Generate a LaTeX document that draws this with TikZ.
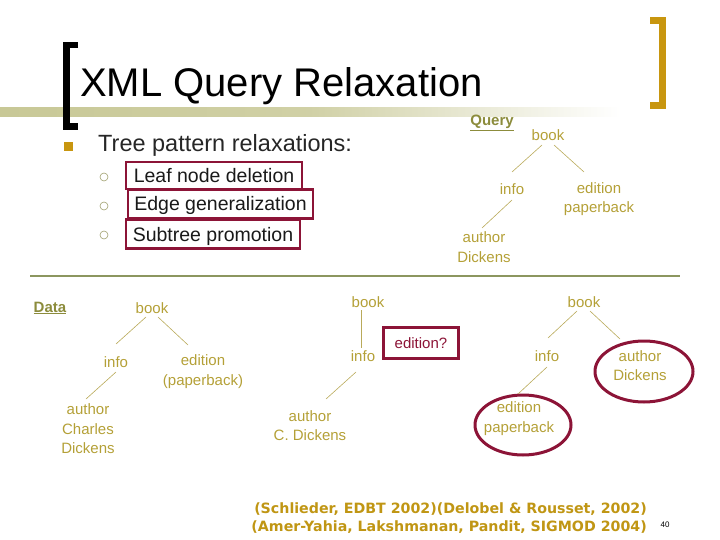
\documentclass[tikz,border=0pt]{standalone}
\usepackage{fontspec}
\setmainfont{Liberation Sans}
\newfontfamily\citefont{DejaVu Sans}
\usetikzlibrary{shapes.geometric,calc}
\definecolor{olivetext}{RGB}{180,160,55}
\definecolor{oliveline}{RGB}{185,170,90}
\definecolor{maroonc}{RGB}{140,20,55}
\definecolor{goldc}{RGB}{200,150,15}
\definecolor{headolive}{RGB}{140,140,60}
\definecolor{sepline}{RGB}{140,150,95}
\definecolor{citecol}{RGB}{192,150,20}
\definecolor{barolive}{RGB}{200,200,150}
\definecolor{circol}{RGB}{160,160,110}
\begin{document}
\begin{tikzpicture}[x=1pt,y=-1pt,
  lbl/.style={text=olivetext, font=\fontsize{15}{19.5}\selectfont, align=center, inner sep=0pt},
  edgeline/.style={draw=oliveline, line width=0.6pt},
  relbox/.style={draw=maroonc, line width=2.8pt, inner sep=0pt, text=black!90,
    font=\fontsize{19.5}{23}\selectfont, text height=14pt, text depth=0pt},
  ring/.style={draw=maroonc, line width=3pt, ellipse, inner sep=0pt},
  heading/.style={text=headolive, font=\bfseries\fontsize{15}{18}\selectfont, inner sep=0pt},
  subbullet/.style={circle, draw=circol, line width=0.6pt, minimum size=8pt, inner sep=0pt},
]
\useasboundingbox (0,0) rectangle (720,540);

% title bar
\shade[left color=barolive, right color=white, middle color=barolive!85] (0,108) rectangle (620,116.5);
\draw[line width=6.5pt, line join=miter] (78,45.25) -- (66.25,45.25) -- (66.25,126.75) -- (78,126.75);
\draw[goldc, line width=7pt, line join=miter] (650,20.5) -- (662.5,20.5) -- (662.5,105.5) -- (650,105.5);
\node[anchor=base west, inner sep=0pt, font=\fontsize{40}{44}\selectfont] (title) at (80,97) {XML Query Relaxation};

% bullets
\node[fill=goldc, minimum size=9pt, inner sep=0pt] (b0) at (68,147) {};
\node[anchor=base west, inner sep=0pt, text=black!85, font=\fontsize{23.5}{26}\selectfont] (tpr) at (98,152) {Tree pattern relaxations:};
\node[subbullet] (c1) at (104,177) {};
\node[subbullet] (c2) at (104,206) {};
\node[subbullet] (c3) at (104,235) {};
\node[relbox, minimum width=176pt, minimum height=27pt] (r1) at (214,175.5) {Leaf node deletion};
\node[relbox, minimum width=185pt, minimum height=29pt] (r2) at (220.5,204) {Edge generalization};
\node[relbox, minimum width=174pt, minimum height=29pt] (r3) at (213,234) {Subtree promotion};

% query tree
\node[heading] (qh) at (492,123) {\underline{Query}};
\node[lbl] (qbook) at (548,135) {book};
\node[lbl] (qinfo) at (512,189) {info};
\node[lbl] (qed) at (599,199) {edition\\paperback};
\node[lbl] (qauth) at (484,247) {author\\Dickens};
\draw[edgeline] ($(qbook)+(-6,10)$) -- ($(qinfo)+(0,-17)$);
\draw[edgeline] ($(qbook)+(6,10)$) -- ($(qed)+(-15,-27)$);
\draw[edgeline] ($(qinfo)+(0,11)$) -- ($(qauth)+(-2,-19)$);

\draw[sepline, line width=1.2pt] (30,276) -- (680,276);

% data tree
\node[heading] (dh) at (50,308) {\underline{Data}};
\node[lbl] (dbook) at (152,308) {book};
\node[lbl] (dinfo) at (116,362) {info};
\node[lbl] (ded) at (203,371.5) {edition\\(paperback)};
\node[lbl] (dauth) at (88,429) {author\\Charles\\Dickens};
\draw[edgeline] ($(dbook)+(-6,9)$) -- ($(dinfo)+(0,-18)$);
\draw[edgeline] ($(dbook)+(6,9)$) -- ($(ded)+(-15,-26.5)$);
\draw[edgeline] ($(dinfo)+(0,10)$) -- ($(dauth)+(-2,-30)$);

% middle tree
\node[lbl] (mbook) at (368,302) {book};
\node[lbl] (minfo) at (363,356) {info};
\node[draw=maroonc, line width=2.8pt, minimum width=75pt, minimum height=31pt, inner sep=0pt,
  text=maroonc, font=\fontsize{15}{18}\selectfont] (medq) at (421,343) {edition?};
\node[lbl] (mauth) at (310,425.5) {author\\C. Dickens};
\draw[edgeline] ($(mbook)+(-7,8)$) -- ($(minfo)+(-2,-8)$);
\draw[edgeline] ($(minfo)+(-7,16)$) -- ($(mauth)+(16,-26.5)$);

% right tree
\node[lbl] (rbook) at (584,302) {book};
\node[lbl] (rinfo) at (547,356) {info};
\node[lbl] (red) at (519,418.5) {edition\\paperback};
\node[lbl] (rauth) at (640,365.5) {author\\Dickens};
\node[ring, minimum width=96pt, minimum height=60pt] (e1) at (523,425) {};
\node[ring, minimum width=98pt, minimum height=61pt] (e2) at (644,371.5) {};
\draw[edgeline] ($(rbook)+(-7,9)$) -- ($(rinfo)+(1,-18)$);
\draw[edgeline] ($(rbook)+(6,9)$) -- ($(rauth)+(-20,-26.5)$);
\draw[edgeline] ($(rinfo)+(0,11)$) -- ($(red)+(-1,-24.5)$);

% citations
\node[anchor=east, align=right, inner sep=0pt, text=citecol, font=\citefont\bfseries\fontsize{14.2}{18}\selectfont] (cite) at (647,518)
  {(Schlieder, EDBT 2002)(Delobel \& Rousset, 2002)\\(Amer-Yahia, Lakshmanan, Pandit, SIGMOD 2004)};
\node[inner sep=0pt, font=\fontsize{8}{9}\selectfont] (pg) at (665,525) {40};
\end{tikzpicture}
\end{document}
